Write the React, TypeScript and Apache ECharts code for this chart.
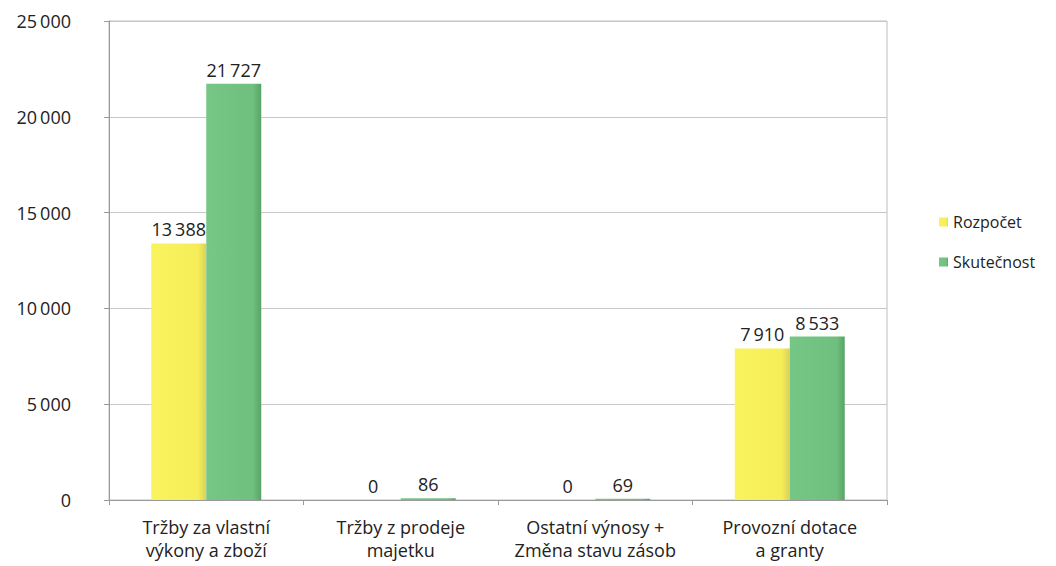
import React, { useEffect, useRef } from "react";
import * as echarts from "echarts";

const categories = [
  "Tržby za vlastní\nvýkony a zboží",
  "Tržby z prodeje\nmajetku",
  "Ostatní výnosy +\nZměna stavu zásob",
  "Provozní dotace\na granty",
];
const rozpocet = [13388, 0, 0, 7910];
const skutecnost = [21727, 86, 69, 8533];
const seriesNames = ["Rozpočet", "Skutečnost"];

const fmt = (v: number) => {
  const s = Math.round(v).toString();
  return s.replace(/\B(?=(\d{3})+(?!\d))/g, "\u2009");
};

export default function App() {
  const ref = useRef<HTMLDivElement>(null);
  useEffect(() => {
    if (!ref.current) return;
    const chart = echarts.init(ref.current, undefined, { renderer: "svg" });
    const font = "'Open Sans', 'Noto Sans', sans-serif";
    const fs = 18;
    const yellowGrad = new echarts.graphic.LinearGradient(0, 0, 1, 0, [
      { offset: 0, color: "#f9f35e" },
      { offset: 0.85, color: "#f5ee58" },
      { offset: 1, color: "#d9d15a" },
    ]);
    const greenGrad = new echarts.graphic.LinearGradient(0, 0, 1, 0, [
      { offset: 0, color: "#76c785" },
      { offset: 0.85, color: "#6fc07e" },
      { offset: 1, color: "#58a466" },
    ]);
    chart.setOption({
      animation: false,
      backgroundColor: "#ffffff",
      textStyle: { fontFamily: font },
      grid: { left: 101, right: 169, top: 13, bottom: 66, show: true, borderColor: "#bdbdbd", borderWidth: 1 },
      legend: {
        orient: "vertical",
        left: 926,
        top: 201,
        itemWidth: 9,
        itemHeight: 9,
        itemGap: 24,
        itemStyle: { borderWidth: 0 },
        icon: "rect",
        textStyle: { fontSize: 16, color: "#222", fontFamily: font, padding: [0, 0, 0, 0] },
        data: seriesNames,
      },
      xAxis: {
        type: "category",
        data: categories,
        axisLine: { lineStyle: { color: "#9a9a9a" } },
        axisTick: { show: true, length: 5, lineStyle: { color: "#9a9a9a" } },
        axisLabel: { fontSize: fs, color: "#222", lineHeight: 23, margin: 15, interval: 0, fontFamily: font },
      },
      yAxis: {
        type: "value",
        min: 0,
        max: 25000,
        interval: 5000,
        axisLine: { show: true, lineStyle: { color: "#9a9a9a" } },
        axisTick: { show: true, length: 5, lineStyle: { color: "#9a9a9a" } },
        splitLine: { lineStyle: { color: "#c8c8c8" } },
        axisLabel: { fontSize: fs, color: "#222", margin: 38, formatter: (v: number) => fmt(v), fontFamily: font },
      },
      series: [
        {
          name: seriesNames[0],
          type: "bar",
          data: rozpocet,
          barWidth: 55,
          barGap: "0%",
          itemStyle: { color: yellowGrad },
          label: { show: true, position: "top", fontSize: fs, color: "#222", distance: 5, formatter: (p: any) => fmt(p.value), fontFamily: font },
        },
        {
          name: seriesNames[1],
          type: "bar",
          data: skutecnost,
          barWidth: 55,
          barGap: "0%",
          itemStyle: { color: greenGrad },
          label: { show: true, position: "top", fontSize: fs, color: "#222", distance: 5, formatter: (p: any) => fmt(p.value), fontFamily: font },
        },
      ],
    });
    return () => chart.dispose();
  }, []);
  return <div ref={ref} style={{ width: 1048, height: 558 }} />;
}
